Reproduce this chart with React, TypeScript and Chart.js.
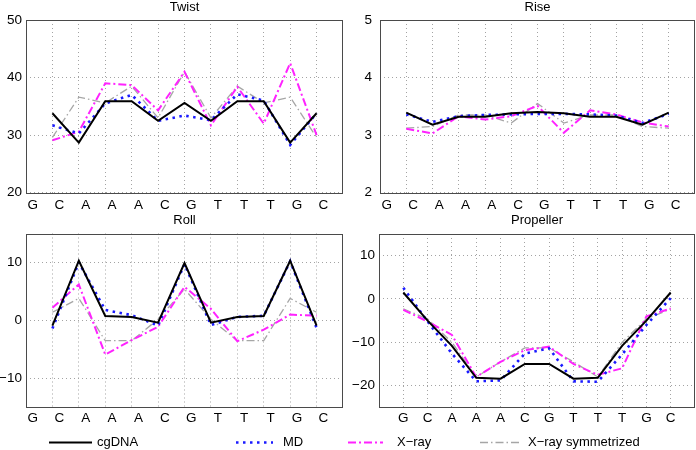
import React, { useEffect, useRef } from 'react';
import { Chart, registerables } from 'chart.js';

Chart.register(...registerables);

// ---------- data ----------
const BASES = ['G', 'C', 'A', 'A', 'A', 'C', 'G', 'T', 'T', 'T', 'G', 'C'];
const SERIES_NAMES = ['cgDNA', 'MD', 'X\u2212ray', 'X\u2212ray symmetrized'];

const TWIST_CG = [33.8, 28.7, 35.9, 35.9, 32.5, 35.6, 32.5, 35.9, 35.9, 28.7, 33.8];
const TWIST_MD = [31.7, 30.3, 35.5, 37.0, 32.5, 33.4, 32.6, 37.1, 36.0, 28.3, 33.8];
const TWIST_XR = [29.1, 30.6, 39.0, 38.7, 34.3, 41.0, 31.7, 38.4, 32.0, 42.5, 30.0];
const TWIST_XS = [29.6, 36.6, 35.6, 38.5, 33.0, 41.0, 33.0, 38.5, 35.6, 36.6, 29.6];

const RISE_CG = [3.39, 3.18, 3.32, 3.32, 3.38, 3.40, 3.38, 3.32, 3.32, 3.18, 3.39];
const RISE_MD = [3.36, 3.23, 3.33, 3.35, 3.36, 3.37, 3.37, 3.36, 3.34, 3.21, 3.37];
const RISE_XR = [3.11, 3.03, 3.33, 3.27, 3.33, 3.51, 3.04, 3.43, 3.36, 3.22, 3.15];
const RISE_XS = [3.12, 3.15, 3.35, 3.35, 3.21, 3.55, 3.21, 3.35, 3.35, 3.15, 3.12];

const ROLL_CG = [-0.9, 10.3, 0.75, 0.6, -0.4, 9.9, -0.4, 0.6, 0.75, 10.3, -0.9];
const ROLL_MD = [-1.4, 10.0, 1.8, 0.9, -0.9, 9.7, -0.8, 0.6, 0.8, 10.2, -1.3];
const ROLL_XR = [2.2, 6.2, -5.9, -3.4, -1.1, 5.8, 2.0, -3.6, -1.6, 1.0, 0.8];
const ROLL_XS = [1.4, 3.8, -3.5, -3.5, 0.2, 5.4, 0.2, -3.5, -3.5, 3.8, 1.4];

const PROP_CG = [1.5, -5.0, -10.8, -18.2, -18.4, -15.0, -15.0, -18.4, -18.2, -10.8, -5.0, 1.5];
const PROP_MD = [2.6, -5.2, -12.6, -19.0, -18.8, -12.6, -11.4, -19.0, -19.1, -12.8, -6.0, 0.2];
const PROP_XR = [-2.5, -5.2, -8.3, -18.0, -14.5, -11.8, -11.0, -15.0, -17.5, -16.0, -4.0, -2.2];
const PROP_XS = [-2.3, -4.6, -10.0, -18.0, -14.5, -11.3, -11.3, -14.5, -18.0, -10.0, -4.6, -2.3];

const TWIST_TICKS = [20, 30, 40, 50];
const RISE_TICKS = [2, 3, 4, 5];
const ROLL_TICKS = [-10, 0, 10];
const PROP_TICKS = [-20, -10, 0, 10];

// ---------- styles ----------
const FONT = "'Liberation Sans', Arial, Helvetica, sans-serif";
const TICK_SIZE = 13.5;
const TITLE_SIZE = 13;
const TITLE_LH = TITLE_SIZE * 1.2;
const GRID = '#a3a3a3';
const LABEL_OFF = 0.26;

const LINE_STYLES = [
  { color: '#000000', width: 2, dash: [] as number[] },
  { color: '#1a1aff', width: 2.6, dash: [2.5, 4.5] },
  { color: '#ff22ff', width: 2, dash: [8, 3, 2, 3] },
  { color: '#a6a6a6', width: 1.3, dash: [8, 3, 1.5, 3] },
];

type PanelCfg = {
  title: string;
  left: number;
  top: number;
  width: number;
  height: number;
  area: { l: number; t: number; r: number; b: number };
  titleY: number;
  mode: 'step' | 'base';
  series: number[][];
  yMin: number;
  yMax: number;
  yTicks: number[];
  xPad: number;
  yPad: number;
};

const PANELS: PanelCfg[] = [
  {
    title: 'Twist', left: 0, top: -2, width: 348, height: 218,
    area: { l: 26, t: 20, r: 343, b: 192.7 }, titleY: 7, mode: 'step',
    series: [TWIST_CG, TWIST_MD, TWIST_XR, TWIST_XS],
    yMin: 20, yMax: 50, yTicks: TWIST_TICKS, xPad: 4, yPad: 4,
  },
  {
    title: 'Rise', left: 348, top: -2, width: 348, height: 218,
    area: { l: 380, t: 20, r: 695, b: 192.7 }, titleY: 7, mode: 'step',
    series: [RISE_CG, RISE_MD, RISE_XR, RISE_XS],
    yMin: 2, yMax: 5, yTicks: RISE_TICKS, xPad: 4, yPad: 8,
  },
  {
    title: 'Roll', left: 0, top: 212, width: 348, height: 218,
    area: { l: 26, t: 233.5, r: 343, b: 407.3 }, titleY: 220.5, mode: 'step',
    series: [ROLL_CG, ROLL_MD, ROLL_XR, ROLL_XS],
    yMin: -15, yMax: 15, yTicks: ROLL_TICKS, xPad: 3, yPad: 4,
  },
  {
    title: 'Propeller', left: 348, top: 212, width: 348, height: 218,
    area: { l: 379, t: 234, r: 695, b: 407.3 }, titleY: 220.5, mode: 'base',
    series: [PROP_CG, PROP_MD, PROP_XR, PROP_XS],
    yMin: -25, yMax: 15, yTicks: PROP_TICKS, xPad: 3, yPad: 4,
  },
];

const fmt = (v: number) => (v < 0 ? '\u2212' + Math.abs(v) : String(v));

const boxPlugin = {
  id: 'box',
  afterDraw(chart: any) {
    const { ctx, chartArea: a } = chart;
    const l = Math.round(a.left), t = Math.round(a.top), r = Math.round(a.right), b = Math.round(a.bottom);
    ctx.save();
    ctx.strokeStyle = '#4a4a4a';
    ctx.lineWidth = 1;
    ctx.setLineDash([]);
    ctx.strokeRect(l + 0.5, t + 0.5, r - l - 1, b - t);
    ctx.restore();
  },
};

function Panel({ cfg }: { cfg: PanelCfg }) {
  const ref = useRef<HTMLCanvasElement>(null);
  useEffect(() => {
    const canvas = ref.current!;
    const W = cfg.width, H = cfg.height;
    const aTop = cfg.area.t - cfg.top;
    const aBottom = cfg.area.b - cfg.top;
    const aLeft = cfg.area.l - cfg.left;
    const aRight = cfg.area.r - cfg.left;
    const titlePadTop = Math.max(0, cfg.titleY - TITLE_LH / 2 - cfg.top);
    const titlePadBottom = aTop - titlePadTop - TITLE_LH;

    const nPts = cfg.series[0].length;
    const xMax = nPts + 1;
    let xTicks: number[] = [];
    if (cfg.mode === 'step') {
      for (let i = 1; i <= nPts; i++) xTicks.push(i);
      BASES.forEach((_, i) => xTicks.push(i + LABEL_OFF));
      xTicks.sort((a, b) => a - b);
    } else {
      for (let i = 1; i <= nPts; i++) xTicks.push(i);
    }
    const xLabel = (v: number) => {
      if (cfg.mode === 'base') return BASES[Math.round(v) - 1] ?? '';
      const k = Math.round(v - LABEL_OFF);
      return Math.abs(v - (k + LABEL_OFF)) < 1e-6 ? BASES[k] ?? '' : '';
    };

    const datasets = cfg.series.map((vals, si) => ({
      label: SERIES_NAMES[si],
      data: vals.map((y, i) => ({ x: i + 1, y })),
      borderColor: LINE_STYLES[si].color,
      borderWidth: LINE_STYLES[si].width,
      borderDash: LINE_STYLES[si].dash,
      borderCapStyle: 'butt',
      borderJoinStyle: 'miter',
      pointRadius: 0,
      fill: false,
      tension: 0,
    }));

    const chart = new Chart(canvas, {
      type: 'line',
      data: { datasets },
      options: {
        responsive: false,
        animation: false,
        events: [],
        layout: { autoPadding: false, padding: { left: 0, top: 0, right: W - aRight, bottom: 0 } },
        plugins: {
          legend: { display: false },
          tooltip: { enabled: false },
          title: {
            display: true,
            text: cfg.title,
            fullSize: false,
            color: '#000',
            font: { family: FONT, size: TITLE_SIZE, weight: 'normal', lineHeight: 1.2 },
            padding: { top: titlePadTop, bottom: titlePadBottom },
          },
        },
        scales: {
          x: {
            type: 'linear',
            min: 0,
            max: xMax,
            afterBuildTicks: (s: any) => { s.ticks = xTicks.map((v) => ({ value: v })); },
            afterFit: (s: any) => { s.height = H - aBottom; },
            ticks: {
              autoSkip: false,
              maxRotation: 0,
              minRotation: 0,
              padding: cfg.xPad,
              color: '#000',
              font: { family: FONT, size: TICK_SIZE },
              callback: (v: any) => xLabel(Number(v)),
            },
            grid: {
              drawTicks: false,
              lineWidth: 1,
              color: (c: any) => (c.tick && Number.isInteger(c.tick.value) && c.tick.value >= 1 && c.tick.value <= nPts ? GRID : 'rgba(0,0,0,0)'),
              borderDash: [1, 3],
            },
            border: { display: false, dash: [1, 3] },
          },
          y: {
            type: 'linear',
            min: cfg.yMin,
            max: cfg.yMax,
            afterBuildTicks: (s: any) => { s.ticks = cfg.yTicks.map((v) => ({ value: v })); },
            afterFit: (s: any) => { s.width = aLeft; },
            ticks: {
              padding: cfg.yPad,
              color: '#000',
              font: { family: FONT, size: TICK_SIZE },
              callback: (v: any) => fmt(Number(v)),
            },
            grid: { drawTicks: false, lineWidth: 1, color: GRID, borderDash: [1, 3] },
            border: { display: false, dash: [1, 3] },
          },
        },
      } as any,
      plugins: [boxPlugin],
    });
    return () => chart.destroy();
  }, [cfg]);
  return (
    <canvas
      ref={ref}
      width={cfg.width}
      height={cfg.height}
      style={{ position: 'absolute', left: cfg.left, top: cfg.top, width: cfg.width, height: cfg.height }}
    />
  );
}

const LEGEND_ITEMS = [
  { x1: 49, x2: 92, tx: 97 },
  { x1: 236, x2: 273, tx: 283 },
  { x1: 348, x2: 383, tx: 397 },
  { x1: 480, x2: 520, tx: 528 },
];

function Legend() {
  const ly = 442.5;
  return (
    <>
      <svg
        width={696}
        height={450}
        style={{ position: 'absolute', left: 0, top: 0, pointerEvents: 'none' }}
      >
        {LEGEND_ITEMS.map((it, i) => (
          <line
            key={i}
            x1={it.x1}
            x2={it.x2}
            y1={ly}
            y2={ly}
            stroke={LINE_STYLES[i].color}
            strokeWidth={LINE_STYLES[i].width}
            strokeDasharray={LINE_STYLES[i].dash.length ? LINE_STYLES[i].dash.join(' ') : undefined}
          />
        ))}
      </svg>
      {LEGEND_ITEMS.map((it, i) => (
        <span
          key={i}
          style={{
            position: 'absolute',
            left: it.tx,
            top: ly - 8 - 0.35,
            font: `13px ${FONT}`,
            lineHeight: '16px',
            whiteSpace: 'nowrap',
            color: '#000',
          }}
        >
          {SERIES_NAMES[i]}
        </span>
      ))}
    </>
  );
}

export default function App() {
  return (
    <div
      style={{
        position: 'absolute',
        left: 0,
        top: 0,
        width: 696,
        height: 450,
        overflow: 'hidden',
        background: '#fff',
      }}
    >
      {PANELS.map((p) => (
        <Panel key={p.title} cfg={p} />
      ))}
      <Legend />
    </div>
  );
}
